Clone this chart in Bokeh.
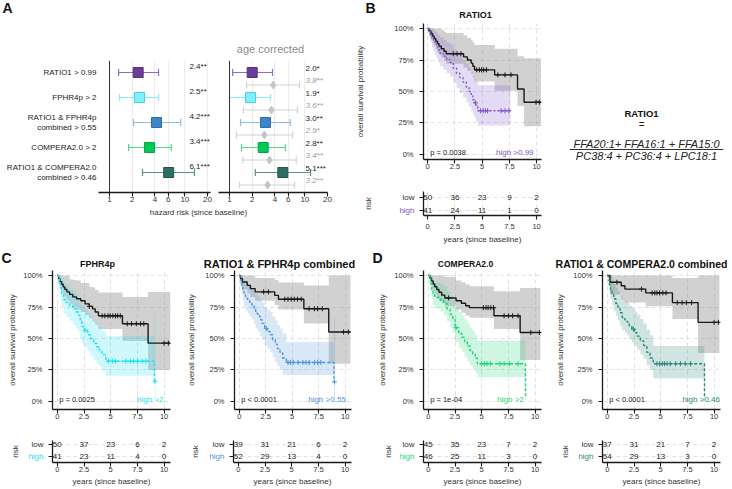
import numpy as np
from bokeh.plotting import figure
from bokeh.models import (Range1d, FixedTicker, NumeralTickFormatter, PrintfTickFormatter,
                          LabelSet, Span, ColumnDataSource)
from bokeh.layouts import row, column
from bokeh.embed import file_html
from bokeh.resources import INLINE
from bokeh.core.properties import value

FONT = "Liberation Sans"
INK = "#222222"

# ---------------- Panel A : hazard ratios ----------------
forest_labels = ["RATIO1 > 0.99", "FPHR4p > 2", "RATIO1 & FPHR4p\ncombined > 0.55",
                 "COMPERA2.0 > 2", "RATIO1 & COMPERA2.0\ncombined > 0.46"]
forest_fill = ["#6a3d9a", "#86eefb", "#3d85c6", "#00c853", "#2f6e66"]
forest_edge = ["#55307e", "#3fd3ea", "#2f6ea8", "#00a845", "#24564f"]
forest_ci = ["#8f6cc2", "#86eefb", "#8dbbe4", "#4fdc8a", "#5f9088"]
hr_uni = [2.4, 2.5, 4.2, 3.4, 6.1]
lo_uni = [1.32, 1.36, 2.08, 1.79, 2.74]
hi_uni = [4.47, 4.47, 8.8, 6.6, 13.4]
sig_uni = ["2.4**", "2.5**", "4.2***", "3.4***", "6.1***"]
hr_adj = [2.0, 1.9, 3.0, 2.8, 5.1]
lo_adj = [1.1, 1.0, 1.4, 1.44, 2.2]
hi_adj = [3.72, 3.5, 6.4, 5.5, 11.9]
sig_adj = ["2.0*", "1.9*", "3.0**", "2.8**", "5.1***"]
hr_age = [3.8, 3.6, 2.9, 3.4, 3.2]
lo_age = [1.68, 1.53, 1.24, 1.5, 1.36]
hi_age = [8.5, 8.0, 6.9, 7.7, 7.3]
sig_age = ["3.8**", "3.6**", "2.9*", "3.4**", "3.2**"]
forest_ticks = [1, 2, 4, 6, 10, 20]
ref_hr = 1.0

# ---------------- Kaplan-Meier curves ----------------
years_ticks = [0, 2.5, 5, 7.5, 10]
surv_ticks = [0, 0.25, 0.5, 0.75, 1.0]

# B : RATIO1
b_low_t = [0, 0.12, 0.3, 0.45, 0.6, 0.75, 0.9, 1.05, 1.25, 1.5, 1.7, 3.3, 3.65, 4.0, 4.15, 4.3, 6.15, 8.25, 8.85]
b_low_s = [1, .98, .96, .94, .92, .90, .88, .86, .84, .82, .80, .775, .75, .725, .70, .672, .632, .52, .415]
b_low_hi = [1, 1, 1, 1, 1, 1, 1, 1, .99, .975, .965, .945, .925, .905, .89, .87, .84, .78, .765]
b_low_lo = [1, .94, .91, .885, .86, .835, .81, .79, .77, .745, .72, .69, .665, .64, .61, .58, .505, .385, .225]
b_low_end = 10.4
b_low_cens = [2.35, 2.7, 3.05, 4.5, 4.75, 4.95, 5.15, 5.4, 6.45, 7.1, 7.65, 9.95, 10.25]
b_high_t = [0, .15, .27, .39, .55, .7, .85, 1.0, 1.15, 1.45, 1.75, 2.05, 2.35, 2.65, 2.95, 3.25, 3.55, 3.8, 4.0, 4.15, 4.3, 4.45, 4.6]
b_high_s = [1, .976, .951, .927, .902, .878, .854, .829, .805, .78, .755, .73, .685, .645, .61, .575, .535, .50, .465, .435, .41, .38, .347]
b_high_hi = [1, 1, 1, 1, .99, .975, .96, .945, .93, .91, .89, .875, .84, .81, .78, .75, .72, .69, .655, .63, .605, .58, .55]
b_high_lo = [1, .93, .89, .855, .82, .79, .76, .73, .70, .675, .645, .62, .57, .53, .49, .455, .415, .38, .345, .315, .29, .26, .23]
b_high_end = 7.6
b_high_cens = [4.4, 4.85, 5.1, 5.3, 5.5, 6.75, 7.1, 7.45]
b_risk_low = [50, 36, 23, 9, 2]
b_risk_high = [41, 24, 11, 1, 0]

# C1 : FPHR4p
c1_low_t = [0, .12, .25, .4, .55, .7, .9, 1.15, 1.45, 1.8, 2.2, 2.6, 3.0, 3.3, 3.55, 3.85, 6.1, 8.5]
c1_low_s = [1, .975, .95, .93, .91, .89, .87, .85, .83, .815, .80, .775, .755, .735, .71, .68, .617, .463]
c1_low_hi = [1, 1, 1, 1, 1, 1, 1, .97, .965, .96, .94, .94, .91, .905, .885, .865, .83, .87]
c1_low_lo = [1, .93, .90, .875, .85, .825, .80, .775, .75, .73, .71, .685, .66, .635, .61, .575, .48, .25]
c1_low_end = 10.6
c1_low_cens = [3.0, 4.2, 4.45, 4.75, 4.95, 5.2, 5.45, 5.65, 5.9, 6.55, 6.95, 7.4, 7.8, 8.1, 10.0, 10.4]
c1_high_t = [0, .1, .2, .3, .4, .6, .85, 1.15, 1.45, 1.75, 2.0, 2.15, 2.3, 2.55, 2.85, 3.1, 3.4, 3.7, 3.95, 4.2, 4.55, 9.1]
c1_high_s = [1, .975, .95, .90, .855, .81, .785, .76, .735, .71, .685, .635, .595, .565, .53, .50, .46, .435, .405, .37, .32, .16]
c1_high_hi = [1, 1, 1, .99, .965, .935, .915, .895, .875, .855, .83, .79, .755, .73, .70, .675, .64, .615, .59, .555, .52, .70]
c1_high_lo = [1, .93, .885, .815, .755, .70, .67, .64, .61, .58, .55, .50, .46, .43, .395, .365, .33, .30, .275, .245, .205, .03]
c1_high_end = 9.2
c1_high_cens = [2.6, 4.8, 5.15, 5.45, 6.4, 6.85, 7.15, 7.5, 7.95, 8.3, 9.15]
c1_risk_low = [50, 37, 23, 6, 2]
c1_risk_high = [41, 23, 11, 4, 0]

# C2 : RATIO1 & FPHR4p combined
c2_low_t = [0, .12, .3, .75, 1.05, 1.5, 3.35, 3.7, 6.1, 8.45]
c2_low_s = [1, .974, .948, .922, .896, .87, .842, .812, .736, .552]
c2_low_hi = [1, 1, 1, 1, 1, .98, .965, .945, .92, 1.0]
c2_low_lo = [1, .92, .89, .86, .83, .80, .765, .73, .62, .30]
c2_low_end = 10.5
c2_low_cens = [2.3, 2.75, 4.3, 4.6, 4.9, 5.2, 5.5, 5.85, 6.6, 7.1, 7.4, 7.85, 9.85, 10.3]
c2_high_t = [0, .08, .15, .25, .35, .45, .6, .8, 1.0, 1.2, 1.4, 1.55, 1.75, 1.95, 2.15, 2.4, 2.65, 2.9, 3.15, 3.4, 3.6, 3.85, 4.1, 4.45, 8.95]
c2_high_s = [1, .98, .96, .92, .88, .846, .82, .80, .78, .76, .73, .70, .68, .65, .62, .58, .555, .53, .49, .455, .42, .385, .345, .31, .155]
c2_high_hi = [1, 1, 1, 1, .985, .96, .945, .93, .915, .90, .875, .85, .835, .81, .785, .75, .73, .71, .675, .645, .61, .58, .54, .47, .66]
c2_high_lo = [1, .94, .905, .85, .80, .755, .725, .70, .675, .65, .615, .58, .555, .52, .49, .445, .42, .39, .35, .315, .28, .25, .215, .21, .02]
c2_high_end = 9.05
c2_high_cens = [2.55, 4.6, 4.85, 5.1, 5.55, 6.0, 6.3, 6.6, 7.1, 7.4, 7.7, 9.0]
c2_risk_low = [39, 31, 21, 6, 2]
c2_risk_high = [52, 29, 13, 4, 0]

# D1 : COMPERA2.0
d1_low_t = [0, .15, .3, .45, .6, .8, 1.0, 1.25, 1.55, 2.6, 3.1, 3.5, 3.85, 6.15, 8.6]
d1_low_s = [1, .978, .956, .933, .911, .889, .867, .844, .822, .80, .78, .76, .745, .68, .548]
d1_low_hi = [1, 1, 1, 1, 1, 1, 1, 1, .99, .96, .945, .93, .915, .875, .90]
d1_low_lo = [1, .93, .90, .875, .85, .825, .80, .78, .755, .73, .705, .68, .665, .575, .33]
d1_low_end = 10.5
d1_low_cens = [1.9, 5.15, 5.4, 5.6, 5.85, 6.1, 7.1, 7.5, 7.9, 8.4, 9.6, 10.4]
d1_high_t = [0, .12, .22, .32, .45, .6, 1.15, 1.45, 1.75, 2.05, 2.3, 2.5, 2.85, 3.15, 3.4, 3.65, 3.9, 4.15, 4.4, 4.6, 9.1]
d1_high_s = [1, .978, .935, .89, .848, .826, .804, .78, .735, .69, .65, .585, .54, .51, .475, .44, .405, .375, .345, .30, .03]
d1_high_hi = [1, 1, 1, .995, .96, .945, .93, .91, .875, .84, .805, .75, .71, .685, .65, .62, .585, .555, .525, .485, .25]
d1_high_lo = [1, .935, .87, .815, .765, .74, .715, .685, .635, .585, .54, .47, .425, .39, .355, .32, .285, .26, .23, .195, .005]
d1_high_end = 9.15
d1_high_cens = [2.6, 5.0, 5.25, 5.5, 5.8, 6.7, 7.1, 7.6, 8.4]
d1_risk_low = [45, 35, 23, 7, 2]
d1_risk_high = [46, 25, 11, 3, 0]

# D2 : RATIO1 & COMPERA2.0 combined
d2_low_t = [0, .25, 1.3, 1.65, 3.6, 6.1, 8.5]
d2_low_s = [1, .946, .919, .892, .862, .785, .628]
d2_low_hi = [1, 1, 1, 1, 1, .98, 1]
d2_low_lo = [1, .85, .81, .785, .755, .655, .385]
d2_low_end = 10.5
d2_low_cens = [0.9, 3.2, 4.2, 4.45, 4.65, 4.9, 5.2, 5.5, 6.55, 7.0, 7.4, 7.9, 10.0, 10.4]
d2_high_t = [0, .1, .2, .3, .45, .6, .8, 1.0, 1.2, 1.4, 1.65, 1.85, 2.05, 2.3, 2.55, 2.8, 3.1, 3.4, 3.7, 4.0, 4.3, 9.1]
d2_high_s = [1, .963, .926, .889, .852, .815, .778, .741, .704, .667, .648, .63, .60, .574, .546, .519, .481, .444, .39, .345, .30, .04]
d2_high_hi = [1, 1, 1, 1, .97, .935, .905, .875, .845, .815, .80, .785, .76, .74, .715, .69, .655, .62, .57, .525, .44, .30]
d2_high_lo = [1, .915, .86, .81, .765, .72, .68, .64, .60, .565, .545, .525, .495, .465, .44, .41, .375, .34, .29, .25, .185, .005]
d2_high_end = 9.15
d2_high_cens = [2.45, 4.65, 4.9, 5.15, 5.35, 5.6, 5.9, 6.4, 6.85, 7.3, 7.8]
d2_risk_low = [37, 31, 21, 7, 2]
d2_risk_high = [54, 29, 13, 3, 0]

formula_title = "RATIO1"
formula_num = "FFA20:1+ FFA16:1 + FFA15:0"
formula_den = "PC38:4 + PC36:4 + LPC18:1"

# ---------------- helpers ----------------
FOREST_YR = (-5.8, -0.52)


def base_fig(w, h, bl, br, bt, bb, xr, yr, x_axis=True, y_axis=True, xlog=False):
    kw = dict(width=w, height=h, output_backend="svg", toolbar_location=None, title=None,
              min_border_left=bl, min_border_right=br, min_border_top=bt, min_border_bottom=bb,
              x_range=Range1d(*xr), y_range=Range1d(*yr))
    if xlog:
        kw["x_axis_type"] = "log"
    if not x_axis:
        kw["x_axis_location"] = None
    if not y_axis:
        kw["y_axis_location"] = None
    p = figure(**kw)
    p.outline_line_color = None
    p.background_fill_color = "white"
    p.border_fill_color = "white"
    p.grid.visible = False
    return p


def text_fig(w, h):
    """A frame-only figure whose data units are pixels (y pointing down)."""
    return base_fig(w, h, 0, 0, 0, 0, (0, w), (h, 0), x_axis=False, y_axis=False)


def style_axis(ax, size="7.5px"):
    ax.axis_line_color = "#1a1a1a"
    ax.axis_line_width = 1.3
    ax.major_tick_line_color = "#1a1a1a"
    ax.major_tick_line_width = 1.1
    ax.major_tick_out = 4
    ax.major_tick_in = 0
    ax.minor_tick_line_color = None
    ax.major_label_text_font = FONT
    ax.major_label_text_font_size = size
    ax.major_label_text_color = "#333333"
    ax.major_label_standoff = 2
    ax.axis_label_text_font = FONT
    ax.axis_label_text_font_size = "8px"
    ax.axis_label_text_font_style = "normal"
    ax.axis_label_text_color = "#333333"
    ax.axis_label_standoff = 2


def add_text(p, xs, ys, texts, size="8px", color=INK, align="center", baseline="middle",
             style="normal", angle=0.0):
    p.text(x=xs, y=ys, text=texts, text_font=value(FONT), text_font_size=value(size),
           text_color=color, text_align=align, text_baseline=baseline, text_font_style=style,
           angle=angle)


def add_labelset(p, xs, ys, texts, color=INK, style="normal", size="8px"):
    src = ColumnDataSource(dict(x=xs, y=ys, text=texts))
    p.add_layout(LabelSet(x="x", y="y", text="text", source=src, text_font=value(FONT),
                          text_font_size=value(size), text_color=color, text_align="left",
                          text_baseline="middle", text_font_style=style))


def grid_style(p, xt, yt):
    p.xgrid.visible = True
    p.ygrid.visible = True
    p.xgrid.ticker = FixedTicker(ticks=xt)
    p.ygrid.ticker = FixedTicker(ticks=yt)
    for g in p.grid:
        g.grid_line_color = "#d9d9d9"
        g.grid_line_dash = "4 3"
        g.grid_line_width = 0.8


def km_block(spec, low, high, risk_low, risk_high):
    cx, cw, bl, br = spec["canvas"]
    top = spec["top"]
    hh = spec["header_h"]
    kbt, kfh, kbb = spec["km_b"]
    rbt, rfh, rbb = spec["risk_b"]
    xr, yr, ryr = spec["xr"], spec["yr"], spec["ryr"]
    color = spec["color"]
    kh = kbt + kfh + kbb
    rh = rbt + rfh + rbb

    # header : panel letter + title
    header = text_fig(cw, hh)
    tx, ty = spec["title_xy"]
    add_text(header, [tx - cx], [ty - top], [spec["title"]], size=spec["title_size"],
             style="bold", color="#111111")
    if spec.get("letter"):
        lx, ly = spec["letter_xy"]
        add_text(header, [lx - cx], [ly - top], [spec["letter"]], size="14px", style="bold",
                 color="#111111")

    # survival curves
    p = base_fig(cw, kh, bl, br, kbt, kbb, xr, yr)
    style_axis(p.xaxis)
    style_axis(p.yaxis)
    p.xaxis.ticker = FixedTicker(ticks=years_ticks)
    p.xaxis.formatter = NumeralTickFormatter(format="0.[0]")
    p.xaxis.major_label_standoff = 0
    p.yaxis.ticker = FixedTicker(ticks=surv_ticks)
    p.yaxis.formatter = NumeralTickFormatter(format="0%")
    p.yaxis.major_label_standoff = 6
    p.yaxis.axis_label = "overall survival probability"
    p.yaxis.axis_label_standoff = spec["ylab_standoff"]
    grid_style(p, years_ticks, surv_ticks)

    curves = [(low, "#1a1a1a", "solid", "#8c8c8c", 0.4), (high, color, spec["dash"], color, 0.22)]
    for (t, s, lo, hi, end, cens), lc, dash, bc, ba in curves:
        p.varea_step(x=list(t) + [end], y1=list(lo) + [lo[-1]], y2=list(hi) + [hi[-1]],
                     step_mode="after", fill_color=bc, fill_alpha=ba)
    for (t, s, lo, hi, end, cens), lc, dash, bc, ba in curves:
        p.step(x=list(t) + [end], y=list(s) + [s[-1]], mode="after", line_color=lc,
               line_width=1.4, line_dash=dash)
        idx = np.searchsorted(np.array(t), np.array(cens), side="right") - 1
        p.scatter(x=cens, y=list(np.array(s)[idx]), marker="cross", size=5, line_color=lc,
                  line_width=1)
    add_text(p, [spec["p_x"]], [0.012], [spec["p"]], size="7.5px", align="left")
    add_text(p, [spec["high_x"]], [0.012], [spec["high_label"]], size="8px", color=color,
             align="right")

    # risk table : labels column + table
    lw = bl - 8
    rl = base_fig(lw, rh, 0, 0, rbt, rbb, (0, lw), ryr, x_axis=False, y_axis=False)
    add_text(rl, [lw - 1, lw - 1], [1, 0], ["low", "high"], align="right",
             color=["#333333", color])
    add_text(rl, [spec["risk_x"] - cx], [(ryr[0] + ryr[1]) / 2], ["risk"], color="#333333",
             angle=np.pi / 2)

    r = base_fig(cw - lw, rh, 8, br, rbt, rbb, xr, ryr)
    style_axis(r.xaxis)
    style_axis(r.yaxis)
    r.xaxis.ticker = FixedTicker(ticks=years_ticks)
    r.xaxis.formatter = NumeralTickFormatter(format="0.[0]")
    r.xaxis.major_label_standoff = spec["risk_tick_standoff"]
    r.xaxis.axis_label = "years (since baseline)"
    r.xaxis.axis_label_standoff = spec["risk_lab_standoff"]
    r.yaxis.ticker = FixedTicker(ticks=[0, 1])
    r.yaxis.major_label_overrides = {0: "", 1: ""}
    r.yaxis.major_label_standoff = 0
    grid_style(r, years_ticks, [0, 1])
    add_text(r, years_ticks, [1] * len(years_ticks), [str(v) for v in risk_low])
    add_text(r, years_ticks, [0] * len(years_ticks), [str(v) for v in risk_high])
    # header wrapped in its own row so its borders are not aligned with the plot below
    return column(row(header), p, row(rl, r))


# ---------------- Panel A ----------------
HA = 55                 # header height
FA_TOP, FA_FH, FA_BOT = 5, 132, 14
FA_H = FA_TOP + FA_FH + FA_BOT
y_main = [-(i + 1) for i in range(len(forest_labels))]
y_age = [y - 0.5 for y in y_main]

headerA = text_fig(340, HA)
add_text(headerA, [7], [7.5], ["A"], size="14px", style="bold", color="#111111")
add_text(headerA, [270], [48], ["age corrected"], size="11px", color="#8a8a8a")

labelsA = base_fig(97, FA_H, 0, 0, FA_TOP, FA_BOT, (0, 97), FOREST_YR, x_axis=False, y_axis=False)
lx, ly, lt = [], [], []
for yv, lab in zip(y_main, forest_labels):
    parts = lab.split("\n")
    offs = [0.0] if len(parts) == 1 else [0.2, -0.2]
    for part, o in zip(parts, offs):
        lx.append(96)
        ly.append(yv + o)
        lt.append(part)
add_text(labelsA, lx, ly, lt, size="8px", align="right")


def forest_fig(w, bl, br, xr):
    p = base_fig(w, FA_H, bl, br, FA_TOP, FA_BOT, xr, FOREST_YR, y_axis=False, xlog=True)
    style_axis(p.xaxis, size="8px")
    p.xaxis.major_label_standoff = 0
    p.xaxis.ticker = FixedTicker(ticks=forest_ticks)
    p.xaxis.formatter = PrintfTickFormatter(format="%d")
    p.xgrid.visible = True
    p.xgrid.ticker = FixedTicker(ticks=forest_ticks[1:])
    p.xgrid.grid_line_color = "#ebebeb"
    p.xgrid.grid_line_width = 1
    p.add_layout(Span(location=ref_hr, dimension="height", line_color="#333333", line_width=1))
    return p


def forest_series(p, hr, lo, hi, ys, fill, edge, ci, marker, size):
    p.segment(x0=lo, y0=ys, x1=hi, y1=ys, line_color=ci, line_width=1.2)
    p.scatter(x=lo + hi, y=ys + ys, marker="dash", angle=np.pi / 2, size=7,
              line_color=ci + ci, line_width=1.2)
    p.scatter(x=hr, y=ys, marker=marker, size=size, fill_color=fill, line_color=edge, line_width=1)


forestL = forest_fig(115, 1, 2, (0.714, 21.9))
forest_series(forestL, hr_uni, lo_uni, hi_uni, y_main, forest_fill, forest_edge, forest_ci, "square", 10)
add_labelset(forestL, [11.5] * 5, [y + 0.26 for y in y_main], sig_uni)

forestR = forest_fig(128, 6, 13, (0.714, 20.0))
n = len(hr_age)
forest_series(forestR, hr_age, lo_age, hi_age, y_age, ["#c4c4c4"] * n, ["#c4c4c4"] * n,
              ["#d2d2d2"] * n, "diamond", 8)
forest_series(forestR, hr_adj, lo_adj, hi_adj, y_main, forest_fill, forest_edge, forest_ci, "square", 10)
add_labelset(forestR, [10.2] * 5, [y + 0.17 for y in y_main], sig_adj)
add_labelset(forestR, [10.2] * 5, [y + 0.17 for y in y_age], sig_age, color="#9a9a9a", style="italic")

hazard = text_fig(340, 246 - HA - FA_H)
add_text(hazard, [198], [6], ["hazard risk (since baseline)"], size="8px", color="#333333")

blockA = column(headerA, row(labelsA, forestL, forestR), hazard)

# ---------------- Formula ----------------
formula = base_fig(187, 246, 24, 9, 0, 0, (0, 1), (246, 0), x_axis=False, y_axis=False)
add_text(formula, [0.468], [112.7], [formula_title], size="9.5px", style="bold", color="#111111")
add_text(formula, [0.468], [124], ["="], size="10px")
add_text(formula, [0.5], [143.3], [formula_num], size="11px", style="italic")
add_text(formula, [0.5], [155.3], [formula_den], size="11px", style="italic")
formula.add_layout(Span(location=149, dimension="width", line_color="#333333", line_width=1))

# ---------------- KM panels ----------------
specB = dict(canvas=(340, 205, 83, 4), top=0, header_h=22, km_b=(1, 136, 17), risk_b=(15, 24, 31),
             xr=(-0.38, 10.45), yr=(-0.04, 1.04), ryr=(-0.36, 1.43),
             risk_tick_standoff=4, risk_lab_standoff=3,
             color="#8158c7", dash="2 2", title="RATIO1", title_size="9px", title_xy=(475, 14),
             letter="B", letter_xy=(370, 7), ylab_standoff=26, risk_x=368,
             p="p = 0.0038", p_x=0.24, high_label="high >0.99", high_x=9.72)
BOT = dict(top=246, header_h=24, km_b=(0, 139, 15), risk_b=(16, 23, 25),
           xr=(-0.45, 10.6), yr=(-0.0635, 1.0397), ryr=(-0.55, 1.37),
           risk_tick_standoff=0, risk_lab_standoff=2, dash="3 2", p_x=0.18)
specC1 = dict(BOT, canvas=(0, 184, 52, 14), color="#1fe0f2",
              title="FPHR4p", title_size="9px", title_xy=(97, 263), letter="C", letter_xy=(6, 257),
              ylab_standoff=3, risk_x=15, p="p = 0.0025", high_label="high >2", high_x=9.94)
specC2 = dict(BOT, canvas=(184, 180, 49, 13), color="#4d94da",
              title="RATIO1 & FPHR4p combined", title_size="11px", title_xy=(279, 263),
              ylab_standoff=6, risk_x=195, p="p < 0.0001", high_label="high >0.55", high_x=10.06)
specD1 = dict(BOT, canvas=(364, 181, 59, 4), color="#1fd47a",
              title="COMPERA2.0", title_size="8.5px", title_xy=(465, 263), letter="D", letter_xy=(377, 257),
              ylab_standoff=4, risk_x=388, p="p = 1e-04", high_label="high >2", high_x=8.94)
specD2 = dict(BOT, canvas=(545, 187, 57, 12), color="#2a8a7a",
              title="RATIO1 & COMPERA2.0 combined", title_size="10.5px", title_xy=(641, 263),
              ylab_standoff=5, risk_x=565, p="p < 0.0001", high_label="high >0.46", high_x=10.55)

blockB = km_block(specB,
                  (b_low_t, b_low_s, b_low_lo, b_low_hi, b_low_end, b_low_cens),
                  (b_high_t, b_high_s, b_high_lo, b_high_hi, b_high_end, b_high_cens),
                  b_risk_low, b_risk_high)
blockC1 = km_block(specC1,
                   (c1_low_t, c1_low_s, c1_low_lo, c1_low_hi, c1_low_end, c1_low_cens),
                   (c1_high_t, c1_high_s, c1_high_lo, c1_high_hi, c1_high_end, c1_high_cens),
                   c1_risk_low, c1_risk_high)
blockC2 = km_block(specC2,
                   (c2_low_t, c2_low_s, c2_low_lo, c2_low_hi, c2_low_end, c2_low_cens),
                   (c2_high_t, c2_high_s, c2_high_lo, c2_high_hi, c2_high_end, c2_high_cens),
                   c2_risk_low, c2_risk_high)
blockD1 = km_block(specD1,
                   (d1_low_t, d1_low_s, d1_low_lo, d1_low_hi, d1_low_end, d1_low_cens),
                   (d1_high_t, d1_high_s, d1_high_lo, d1_high_hi, d1_high_end, d1_high_cens),
                   d1_risk_low, d1_risk_high)
blockD2 = km_block(specD2,
                   (d2_low_t, d2_low_s, d2_low_lo, d2_low_hi, d2_low_end, d2_low_cens),
                   (d2_high_t, d2_high_s, d2_high_lo, d2_high_hi, d2_high_end, d2_high_cens),
                   d2_risk_low, d2_risk_high)

layout = column(row(blockA, blockB, formula), row(blockC1, blockC2, blockD1, blockD2))

with open("out.html", "w") as f:
    f.write(file_html(layout, INLINE))
